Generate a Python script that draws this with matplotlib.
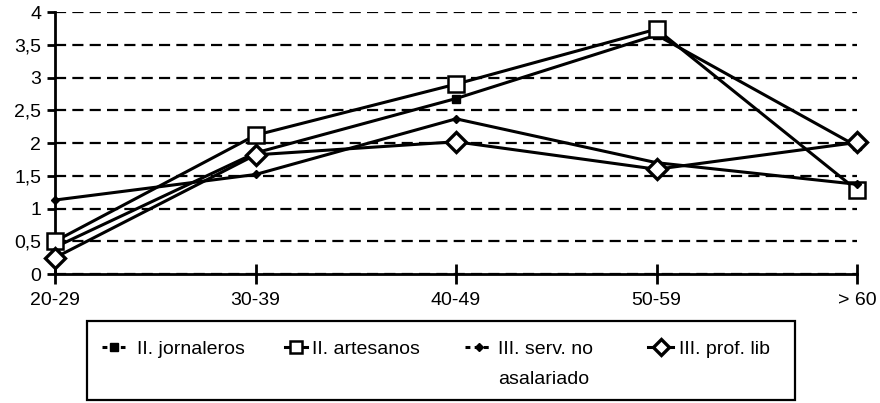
import numpy as np
import matplotlib.pyplot as plt
from matplotlib.lines import Line2D
from matplotlib.patches import Rectangle

# Age groups and mean values per occupational group
edades = ['20-29', '30-39', '40-49', '50-59', '> 60']
jornaleros = [0.41, 1.85, 2.68, 3.65, 1.95]
artesanos = [0.50, 2.12, 2.90, 3.74, 1.28]
serv_no_asal = [1.13, 1.52, 2.37, 1.70, 1.37]
prof_lib = [0.25, 1.82, 2.02, 1.60, 2.01]
etiquetas = ['II. jornaleros', 'II. artesanos', 'III. serv. no\nasalariado', 'III. prof. lib']

plt.rcParams['font.family'] = ['Liberation Sans', 'DejaVu Sans']
plt.rcParams['font.size'] = 14

fig = plt.figure(figsize=(8.8, 4.03), dpi=100)
ax = fig.add_axes([0.0625, 0.320, 0.9115, 0.650])

x = np.arange(len(edades))
lw = 2.2
estilos = [
    dict(marker='s', ms=6, mfc='black', mec='black'),
    dict(marker='s', ms=12, mfc='white', mec='black', mew=1.8),
    dict(marker='D', ms=4.5, mfc='black', mec='black'),
    dict(marker='D', ms=10, mfc='white', mec='black', mew=2.4),
]
series = [jornaleros, artesanos, serv_no_asal, prof_lib]
for y, st, lab in zip(series, estilos, etiquetas):
    ax.plot(x, y, color='black', lw=lw, clip_on=False, zorder=3, label=lab, **st)

ax.set_xlim(0, 4)
ax.set_ylim(0, 4)
ax.set_xticks(x)
ax.set_xticklabels(edades)
yt = np.arange(0, 4.01, 0.5)
ax.set_yticks(yt)
ax.set_yticklabels([('%g' % v).replace('.', ',') for v in yt])
ax.yaxis.grid(True, linestyle=(0, (5, 2.8)), color='black', lw=1.6)
ax.set_axisbelow(True)

for s in ['top', 'right']:
    ax.spines[s].set_visible(False)
ax.spines['left'].set_linewidth(2)
ax.spines['bottom'].set_linewidth(2)
ax.tick_params(axis='y', direction='out', length=6, width=2, pad=4)
ax.tick_params(axis='x', direction='inout', length=14, width=2, pad=6)

# legend drawn by hand so the wrapped label keeps its handle on the first line
W, H = 880.0, 403.0
fig.patches.append(Rectangle((87 / W, 1 - 400 / H), (795 - 87) / W, (400 - 321) / H,
                             transform=fig.transFigure, fill=False,
                             edgecolor='black', lw=1.6))
handle_x = [(102, 125, 137), (285, 307, 312), (465, 492, 498), (648, 673, 679)]
ley_ms = [5.5, 8.5, 4.5, 8.5]
ly = 1 - 347 / H
for (x0, x1, xt), st, lab, ms in zip(handle_x, estilos, etiquetas, ley_ms):
    ls = (0, (1.6, 1.4)) if st['mfc'] == 'black' else '-'
    fig.add_artist(Line2D([x0 / W, x1 / W], [ly, ly], transform=fig.transFigure,
                          color='black', lw=2.2, ls=ls))
    st2 = dict(st, ms=ms)
    fig.add_artist(Line2D([(x0 + x1) / 2 / W], [ly], transform=fig.transFigure,
                          color='black', **st2))
    fig.text(xt / W, ly, lab.split('\n')[0], ha='left', va='center_baseline')
    if '\n' in lab:
        fig.text(xt / W, ly - 30 / H, lab.split('\n')[1], ha='left', va='center_baseline')

fig.savefig('out.png', dpi=100)
